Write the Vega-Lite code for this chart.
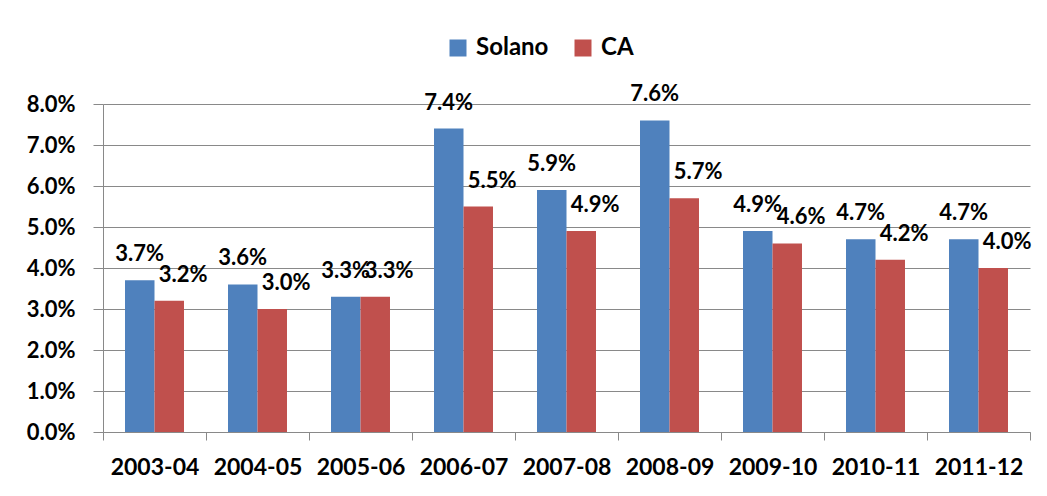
{
  "$schema": "https://vega.github.io/schema/vega-lite/v6.json",
  "autosize": {"type": "none"},
  "width": 927,
  "height": 328,
  "padding": {"left": 103, "top": 104, "right": 17, "bottom": 64},
  "background": "white",
  "data": {
    "values": [
      {"year": "2003-04", "region": "Solano", "rate": 0.037},
      {"year": "2003-04", "region": "CA", "rate": 0.032},
      {"year": "2004-05", "region": "Solano", "rate": 0.036},
      {"year": "2004-05", "region": "CA", "rate": 0.030},
      {"year": "2005-06", "region": "Solano", "rate": 0.033},
      {"year": "2005-06", "region": "CA", "rate": 0.033},
      {"year": "2006-07", "region": "Solano", "rate": 0.074},
      {"year": "2006-07", "region": "CA", "rate": 0.055},
      {"year": "2007-08", "region": "Solano", "rate": 0.059},
      {"year": "2007-08", "region": "CA", "rate": 0.049},
      {"year": "2008-09", "region": "Solano", "rate": 0.076},
      {"year": "2008-09", "region": "CA", "rate": 0.057},
      {"year": "2009-10", "region": "Solano", "rate": 0.049},
      {"year": "2009-10", "region": "CA", "rate": 0.046},
      {"year": "2010-11", "region": "Solano", "rate": 0.047},
      {"year": "2010-11", "region": "CA", "rate": 0.042},
      {"year": "2011-12", "region": "Solano", "rate": 0.047},
      {"year": "2011-12", "region": "CA", "rate": 0.040}
    ]
  },
  "encoding": {
    "x": {
      "field": "year",
      "type": "nominal",
      "sort": null,
      "title": null,
      "scale": {"paddingInner": 0, "paddingOuter": 0},
      "axis": {
        "labelAngle": 0,
        "tickBand": "extent",
        "tickSize": 8,
        "tickColor": "#898989",
        "domainColor": "#898989",
        "labelPadding": 16,
        "labelFont": "Lato",
        "labelFontWeight": "bold",
        "labelFontSize": 23,
        "labelColor": "#000000",
        "grid": false
      }
    },
    "xOffset": {
      "field": "region",
      "type": "nominal",
      "sort": ["Solano", "CA"],
      "scale": {"paddingInner": 0, "paddingOuter": 0.746}
    },
    "y": {
      "field": "rate",
      "type": "quantitative",
      "title": null,
      "scale": {"domain": [0, 0.08], "nice": false},
      "axis": {
        "values": [0, 0.01, 0.02, 0.03, 0.04, 0.05, 0.06, 0.07, 0.08],
        "format": ".1%",
        "grid": true,
        "gridColor": "#898989",
        "gridWidth": 1,
        "tickSize": 10,
        "tickColor": "#898989",
        "domainColor": "#898989",
        "labelPadding": 18,
        "labelFont": "Lato",
        "labelFontWeight": "bold",
        "labelFontSize": 22,
        "labelColor": "#000000"
      }
    }
  },
  "layer": [
    {
      "mark": {"type": "bar"},
      "encoding": {
        "color": {
          "field": "region",
          "type": "nominal",
          "sort": ["Solano", "CA"],
          "scale": {"domain": ["Solano", "CA"], "range": ["#4F81BD", "#C0504D"]},
          "legend": {
            "title": null,
            "orient": "none",
            "direction": "horizontal",
            "legendX": 343,
            "legendY": -68,
            "padding": 0,
            "symbolType": "square",
            "symbolSize": 289,
            "symbolStrokeWidth": 0,
            "labelOffset": 6,
            "columnPadding": 22,
            "labelFont": "Lato",
            "labelFontWeight": "bold",
            "labelFontSize": 24,
            "labelColor": "#000000"
          }
        }
      }
    },
    {
      "transform": [{"filter": "datum.region === 'Solano'"}],
      "mark": {"type": "text", "dy": -19, "baseline": "alphabetic", "align": "center", "font": "Lato", "fontWeight": "bold", "fontSize": 22, "color": "#000000"},
      "encoding": {"text": {"field": "rate", "type": "quantitative", "format": ".1%"}}
    },
    {
      "transform": [{"filter": "datum.region === 'CA'"}],
      "mark": {"type": "text", "dy": -19, "dx": 14, "baseline": "alphabetic", "align": "center", "font": "Lato", "fontWeight": "bold", "fontSize": 22, "color": "#000000"},
      "encoding": {"text": {"field": "rate", "type": "quantitative", "format": ".1%"}}
    }
  ],
  "config": {"view": {"stroke": null}}
}
